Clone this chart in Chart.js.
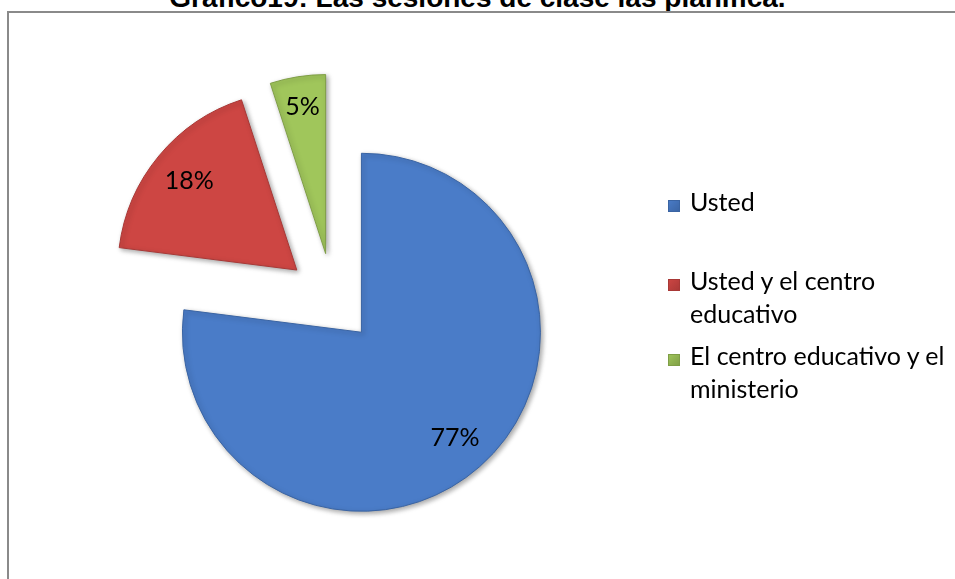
<!DOCTYPE html>
<html>
<head>
<meta charset="utf-8">
<script src="https://cdn.jsdelivr.net/npm/chart.js@4.4.1/dist/chart.umd.min.js"></script>
<style>
  body { margin: 0; width: 955px; height: 579px; overflow: hidden; background: #fff; position: relative; }
  #title { position: absolute; left: 0; width: 955px; top: -16px; text-align: center;
    font: bold 28px "Liberation Sans", Arial, sans-serif; line-height: 28px; color: #000; white-space: nowrap; }
  #frame { position: absolute; left: 7px; top: 11px; width: 960px; height: 580px;
    border: 2px solid #8a8a8a; background: #fff; }
  #chart { position: absolute; left: 0; top: 0; }
  .lg-mark { position: absolute; width: 12px; height: 12px; }
  .lg-text { position: absolute; left: 690px; font: 25px Lato, sans-serif; line-height: 32.5px; color: #000; white-space: nowrap; }
</style>
</head>
<body>
<div id="title">Gráfico19: Las sesiones de clase las planifica.</div>
<div id="frame"></div>
<canvas id="chart" width="955" height="579"></canvas>
<div id="legend"></div>
<script>
// data
const categories = ['Usted', 'Usted y el centro\neducativo', 'El centro educativo y el\nministerio'];
const percentages = [77, 18, 5];
const sliceColors = ['#4a7cc8', '#cd4643', '#a0c65b'];
const edgeColors = ['#3a64a3', '#a83836', '#7f9e46'];

const explode = [172, 188, 188]; // chart.js divides arc offset by 4
const pieRadius = 179;

// chart.js grows/narrows exploded arcs; undo that so every slice keeps radius and angle
const radiusFix = {
    id: 'radiusFix',
    afterDatasetUpdate(chart, args) {
        args.meta.data.forEach((arc, i) => {
            const fix = 1 - Math.sin(Math.min(Math.PI, arc.circumference));
            const ro = (explode[i] / 4) * fix;
            arc.outerRadius = pieRadius - ro;
            const a = (ro / Math.PI) / pieRadius / 2;
            arc.startAngle -= a;
            arc.endAngle += a;
        });
    }
};

const shadow = {
    id: 'shadow',
    beforeDatasetsDraw(chart) {
        const ctx = chart.ctx;
        ctx.save();
        ctx.shadowColor = 'rgba(0,0,0,0.35)';
        ctx.shadowBlur = 5;
        ctx.shadowOffsetX = 2;
        ctx.shadowOffsetY = 2;
    },
    afterDatasetsDraw(chart) {
        chart.ctx.restore();
    }
};

const labelDist = [0.79, 0.78, 0.83];

const sliceLabels = {
    id: 'sliceLabels',
    afterDraw(chart) {
        const ctx = chart.ctx;
        const meta = chart.getDatasetMeta(0);
        ctx.save();
        ctx.font = '25px Lato, sans-serif';
        ctx.fillStyle = '#000';
        ctx.textAlign = 'center';
        ctx.textBaseline = 'middle';
        meta.data.forEach((arc, i) => {
            const mid = (arc.startAngle + arc.endAngle) / 2;
            const shift = (arc.options.offset || 0) / 4;
            const d = shift + pieRadius * labelDist[i];
            ctx.fillText(percentages[i] + '%', arc.x + Math.cos(mid) * d, arc.y + Math.sin(mid) * d);
        });
        ctx.restore();
    }
};

new Chart(document.getElementById('chart'), {
    type: 'pie',
    data: {
        labels: categories,
        datasets: [{
            data: percentages,
            backgroundColor: sliceColors,
            borderColor: edgeColors,
            borderWidth: 1,
            offset: explode,
            hoverOffset: 0
        }]
    },
    options: {
        responsive: false,
        animation: false,
        radius: pieRadius,
        layout: { padding: { left: 0, right: 289, top: 21, bottom: 0 } },
        plugins: {
            legend: { display: false },
            tooltip: { enabled: false }
        }
    },
    plugins: [radiusFix, shadow, sliceLabels]
});

// legend as html so the labels can wrap like the original
const legendTops = [185, 264, 339];
const legend = document.getElementById('legend');
categories.forEach((name, i) => {
    const mark = document.createElement('div');
    mark.className = 'lg-mark';
    mark.style.left = '668px';
    mark.style.top = (legendTops[i] + 15) + 'px';
    mark.style.background = `linear-gradient(135deg, ${sliceColors[i]}, ${edgeColors[i]})`;
    mark.style.boxShadow = `inset 0 0 0 1px ${edgeColors[i]}`;
    legend.appendChild(mark);
    const txt = document.createElement('div');
    txt.className = 'lg-text';
    txt.style.top = legendTops[i] + 'px';
    txt.innerHTML = name.split('\n').join('<br>');
    legend.appendChild(txt);
});
</script>
</body>
</html>
